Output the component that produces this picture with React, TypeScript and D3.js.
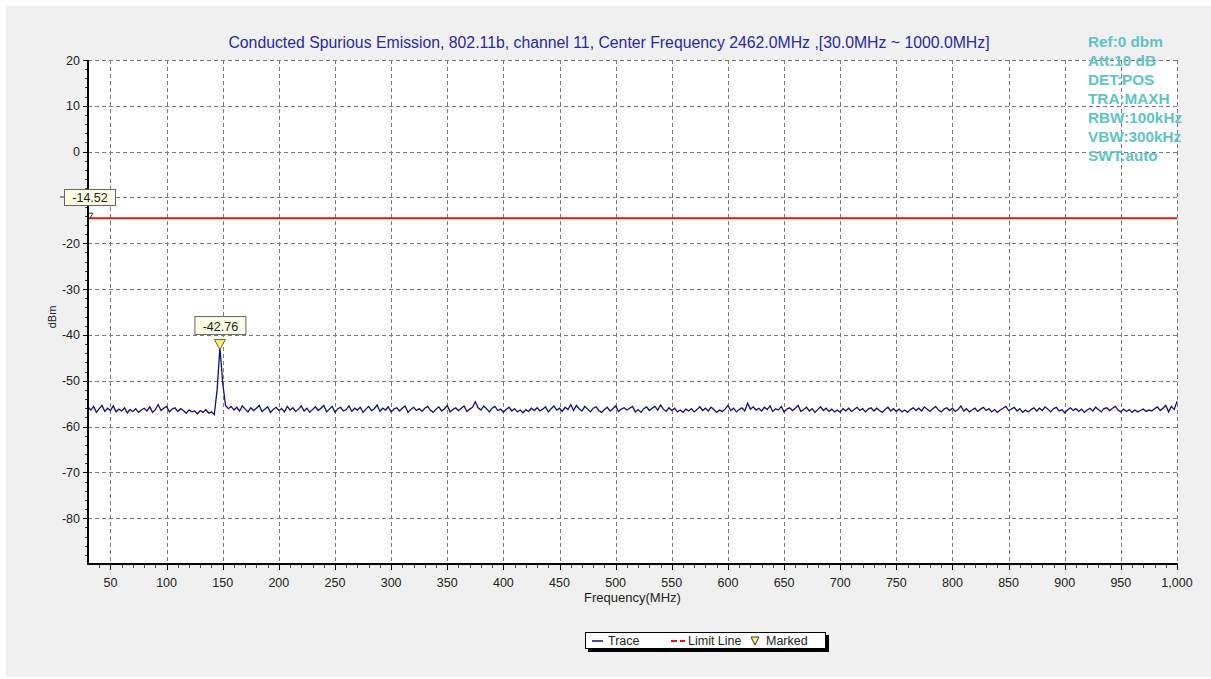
import React from 'react';
import * as d3 from 'd3';

// sweep settings
const sweepStart = 30;
const sweepStop = 1000;

const titleText = 'Conducted Spurious Emission, 802.11b, channel 11, Center Frequency 2462.0MHz ,[30.0MHz ~ 1000.0MHz]';
const settingLines = ['Ref:0 dbm', 'Att:10 dB', 'DET:POS', 'TRA:MAXH', 'RBW:100kHz', 'VBW:300kHz', 'SWT:auto'];

const xTicks = [50, 100, 150, 200, 250, 300, 350, 400, 450, 500, 550, 600, 650, 700, 750, 800, 850, 900, 950, 1000];
const yTicks = [20, 10, 0, -10, -20, -30, -40, -50, -60, -70, -80];

const limitLevel = -14.52;
const markerFreq = 147.5;
const markerLevel = -42.76;

// max-hold trace, one point every 2.5 MHz from 30 to 1000 MHz
const traceLevels = [
  -55.8, -56.4, -55.6, -56.9, -56.1, -55.4, -56.7, -56.0, -56.5, -55.5, -56.8, -56.2, -56.6, -55.9, -57.0, -56.3, -56.7, -56.1, -56.9, -56.4,
  -56.0, -56.6, -55.7, -56.9, -56.3, -55.2, -56.5, -56.0, -55.6, -56.8, -56.2, -55.9, -56.7, -56.1, -56.5, -57.1, -56.4, -56.8, -56.6, -57.2,
  -56.5, -56.9, -56.3, -57.1, -56.8, -57.4, -52.0, -42.76, -50.5, -55.4, -56.1, -55.6, -56.4, -55.8, -56.6, -55.5, -56.2, -56.8, -55.9, -56.5,
  -56.0, -55.4, -56.7, -56.2, -55.7, -56.9, -56.3, -55.8, -56.5, -56.1, -56.8, -55.6, -56.4, -55.9, -56.7, -56.2, -55.5, -56.6, -56.0, -56.9,
  -56.3, -55.7, -56.5, -56.0, -55.4, -56.8, -56.2, -55.6, -56.9, -56.1, -55.8, -56.6, -56.3, -55.5, -56.7, -56.0, -56.4, -55.8, -56.9, -56.2,
  -55.6, -56.5, -56.1, -55.3, -56.7, -56.0, -56.4, -55.7, -56.8, -56.2, -55.9, -56.6, -56.0, -55.5, -56.9, -56.3, -55.8, -56.5, -56.1, -56.7,
  -56.0, -55.6, -56.4, -56.9, -56.2, -55.7, -56.6, -56.1, -55.4, -56.8, -56.3, -55.9, -56.5, -56.0, -55.5, -56.7, -56.2, -55.8, -54.6, -55.9,
  -56.4, -55.5, -56.1, -56.8, -56.0, -55.6, -56.5, -56.2, -56.9, -56.3, -55.8, -56.6, -56.1, -56.8, -56.4, -57.0, -56.3, -56.7, -56.0, -56.5,
  -55.9, -56.6, -56.2, -55.7, -56.8, -56.1, -55.5, -56.4, -56.0, -56.7, -55.8, -56.3, -55.2, -56.5, -55.4, -56.1, -56.6, -55.6, -56.2, -56.8,
  -56.0, -55.7, -56.5, -56.9, -56.3, -55.8, -56.6, -56.1, -55.5, -56.7, -56.2, -55.9, -56.4, -56.0, -55.6, -56.8, -56.3, -56.9, -56.1, -55.7,
  -56.5, -56.0, -55.6, -56.4, -55.3, -56.2, -56.7, -55.9, -56.5, -56.0, -56.8, -56.4, -56.9, -56.2, -56.6, -56.1, -56.8, -56.3, -55.7, -56.5,
  -56.0, -56.6, -55.8, -56.3, -56.9, -56.4, -56.7, -56.2, -55.4, -56.5, -56.0, -56.8, -56.3, -55.9, -56.6, -54.9, -56.2, -55.7, -56.4, -56.0,
  -56.6, -55.8, -56.3, -55.5, -56.7, -56.1, -56.4, -55.6, -56.8, -56.2, -55.9, -56.5, -56.0, -55.4, -56.7, -56.3, -55.8, -56.6, -56.1, -56.9,
  -56.3, -55.7, -56.5, -56.0, -56.7, -56.2, -56.8, -56.4, -56.9, -56.1, -56.6, -56.0, -56.7, -56.3, -55.8, -56.5, -56.1, -56.8, -56.2, -55.9,
  -56.6, -56.0, -56.5, -56.9, -56.3, -55.8, -56.6, -56.1, -56.7, -56.2, -56.8, -56.4, -56.9, -56.3, -55.9, -56.5, -56.0, -56.6, -55.7, -56.2,
  -56.7, -56.1, -55.6, -56.4, -56.8, -56.2, -55.9, -56.5, -56.0, -56.7, -56.3, -55.5, -56.6, -56.1, -56.8, -56.4, -56.0, -56.7, -56.2, -55.8,
  -56.5, -56.1, -56.8, -56.3, -56.9, -56.4, -56.0, -55.6, -56.5, -56.2, -55.8, -56.6, -56.1, -56.9, -56.4, -56.8, -56.3, -55.9, -56.6, -56.0,
  -56.5, -55.7, -56.2, -56.8, -56.1, -55.8, -56.6, -56.3, -57.0, -56.4, -55.9, -56.5, -56.1, -56.7, -56.2, -56.9, -56.4, -56.0, -56.6, -55.8,
  -56.3, -56.8, -56.1, -55.9, -56.5, -56.0, -55.6, -56.4, -56.8, -56.2, -56.7, -56.3, -56.9, -56.4, -56.8, -56.5, -56.2, -56.7, -56.4, -56.6,
  -56.1, -55.7, -56.5, -56.0, -55.4, -56.8, -55.6, -56.3, -54.5,
];

const W = 1211;
const H = 679;
const plot = { left: 88, right: 1177, top: 60, bottom: 564 };
const font = '"Liberation Sans", Arial, sans-serif';

const App = () => {
  const x = d3.scaleLinear().domain([sweepStart, sweepStop]).range([plot.left, plot.right]);
  const y = d3.scaleLinear().domain([-90, 20]).range([plot.bottom, plot.top]);

  const step = (sweepStop - sweepStart) / (traceLevels.length - 1);
  const points: [number, number][] = traceLevels.map((v, i) => [sweepStart + i * step, v]);
  const tracePath = d3.line<[number, number]>()
    .x(d => x(d[0]))
    .y(d => y(d[1]))(points);

  const xMinor = d3.range(40, 1000, 10).filter(v => v % 50 !== 0);
  const yMinor = d3.range(-88, 20, 2).filter(v => v % 10 !== 0);
  const fmtX = d3.format(',');

  const mx = x(markerFreq);
  const my = y(markerLevel);
  const ly = y(limitLevel);
  const py = (v: number) => Math.round(y(v)) + 0.5;
  const px = (v: number) => Math.round(x(v)) + 0.5;

  return (
    <div style={{ position: 'absolute', left: 0, top: 0 }}>
      <svg width={W} height={H} style={{ display: 'block', fontFamily: font }}>
        <rect x={0} y={0} width={W} height={H} fill="#ffffff" />
        <rect x={6} y={6} width={W - 6} height={H - 8} fill="#f0f0f0" />
        <rect x={plot.left} y={plot.top} width={plot.right - plot.left} height={plot.bottom - plot.top} fill="#ffffff" />

        {/* grid */}
        <g stroke="#7a7a7a" strokeWidth={1} strokeDasharray="4,3">
          {xTicks.map(t => (
            <line key={'gx' + t} x1={px(t)} x2={px(t)} y1={plot.top} y2={plot.bottom} />
          ))}
          {yTicks.map(t => (
            <line key={'gy' + t} x1={plot.left} x2={plot.right} y1={py(t)} y2={py(t)} />
          ))}
        </g>

        <text x={609} y={48} textAnchor="middle" fontSize={15.8} fill="#2a2aa0">{titleText}</text>

        {/* limit line */}
        <line x1={plot.left} x2={plot.right} y1={ly} y2={ly} stroke="#e01818" strokeWidth={2} />

        {/* trace */}
        <path d={tracePath || ''} fill="none" stroke="#10107a" strokeWidth={1.3} />

        {/* axes */}
        <g stroke="#000" strokeWidth={1}>
          {yTicks.map(t => (
            <line key={'ty' + t} x1={plot.left - 5} x2={plot.left} y1={py(t)} y2={py(t)} />
          ))}
          {yMinor.map(t => (
            <line key={'my' + t} x1={plot.left - 3} x2={plot.left} y1={py(t)} y2={py(t)} stroke="#444" />
          ))}
          {xTicks.map(t => (
            <line key={'tx' + t} x1={px(t)} x2={px(t)} y1={plot.bottom} y2={plot.bottom + 6} />
          ))}
          {xMinor.map(t => (
            <line key={'mx' + t} x1={px(t)} x2={px(t)} y1={plot.bottom} y2={plot.bottom + 4} stroke="#444" />
          ))}
        </g>
        <line x1={plot.left} x2={plot.left} y1={plot.top} y2={plot.bottom + 1} stroke="#000" strokeWidth={2} />
        <line x1={plot.left - 1} x2={plot.right + 1} y1={plot.bottom} y2={plot.bottom} stroke="#000" strokeWidth={2} />

        <g fontSize={12.5} fill="#222">
          {/* the -10 label sits under the limit value tag, only its minus shows */}
          {yTicks.filter(t => t !== -10).map(t => (
            <text key={'ly' + t} x={plot.left - 8} y={y(t) + 4.5} textAnchor="end">{String(t)}</text>
          ))}
          {xTicks.map(t => (
            <text key={'lx' + t} x={x(t)} y={plot.bottom + 23} textAnchor="middle">{fmtX(t)}</text>
          ))}
          <text x={(plot.left + plot.right) / 2} y={plot.bottom + 38} textAnchor="middle" fontSize={13}>Frequency(MHz)</text>
          <text transform={`translate(56, ${(plot.top + plot.bottom) / 2 + 5}) rotate(-90)`} textAnchor="middle" fontSize={11}>dBm</text>
        </g>

        {/* setting readout */}
        <g fontSize={15.3} fontWeight="bold" fill="#62c2c6">
          {settingLines.map((s, i) => (
            <text key={s} x={1088} y={47 + i * 19}>{s}</text>
          ))}
        </g>

        {/* limit value tag */}
        <line x1={60} x2={64} y1={197} y2={197} stroke="#333" />
        <rect x={64.5} y={189.5} width={51} height={16} fill="#fdfde6" stroke="#666" />
        <text x={90} y={202} textAnchor="middle" fontSize={12.5} fill="#222">{limitLevel.toFixed(2)}</text>
        <path d={`M${plot.left + 1},${ly - 5} L${plot.left + 5},${ly - 5} L${plot.left + 2},${ly}`} fill="none" stroke="#333" strokeWidth={1} />

        {/* marker */}
        <path d={`M${mx - 5.5},${my - 8} L${mx + 5.5},${my - 8} L${mx},${my + 2} Z`} fill="#f5f07a" stroke="#6a6a30" strokeWidth={1} />
        <rect x={mx - 25} y={my - 31} width={51} height={18} fill="#fdfde6" stroke="#666" />
        <text x={mx + 0.5} y={my - 17} textAnchor="middle" fontSize={12.5} fill="#222">{markerLevel.toFixed(2)}</text>

        {/* legend */}
        <rect x={588} y={635} width={241} height={17} fill="#000" />
        <rect x={585.5} y={632.5} width={240} height={16} fill="#fff" stroke="#000" />
        <g fontSize={12.5} fill="#222">
          <line x1={592} x2={603} y1={641} y2={641} stroke="#10107a" strokeWidth={1.5} />
          <text x={608} y={645}>Trace</text>
          <line x1={671} x2={685} y1={641} y2={641} stroke="#e01818" strokeWidth={2} strokeDasharray="6,3" />
          <text x={688} y={645}>Limit Line</text>
          <path d="M751,637 L759,637 L755,645 Z" fill="#f5f07a" stroke="#333" strokeWidth={1} />
          <text x={766} y={645}>Marked</text>
        </g>
      </svg>
    </div>
  );
};

export default App;
